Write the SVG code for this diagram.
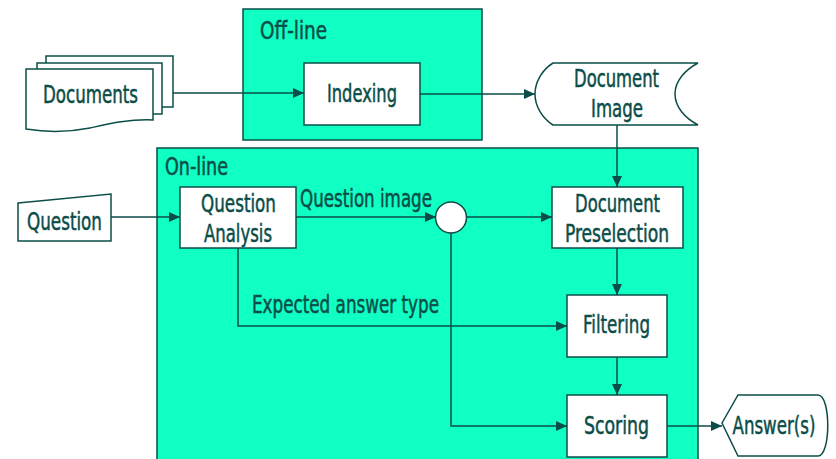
<svg xmlns="http://www.w3.org/2000/svg" width="836" height="459" viewBox="0 0 836 459">
  <style>
    .zone { fill: #10FFC2; stroke: #0B4D48; stroke-width: 1.5; }
    .box { fill: #FFFFFF; stroke: #0B4D48; stroke-width: 1.5; }
    .wire { fill: none; stroke: #0B4D48; stroke-width: 1.5; }
    .lbl { font-family: "DejaVu Sans Condensed", "Liberation Sans Narrow", "Liberation Sans", sans-serif; font-size: 25px; fill: #0B4D48; stroke: #0B4D48; stroke-width: 0.5; }
    .mid { text-anchor: middle; }
  </style>
  <defs>
    <marker id="arrow" markerUnits="userSpaceOnUse" markerWidth="11" markerHeight="10" refX="11" refY="5" orient="auto">
      <path d="M0,0 L11,5 L0,10 Z" fill="#0B4D48"/>
    </marker>
  </defs>

  <!-- processing zones -->
  <g id="offline-zone">
    <rect class="zone" x="243" y="9" width="239" height="131"/>
    <text class="lbl" x="260" y="39" textLength="67" lengthAdjust="spacingAndGlyphs">Off-line</text>
  </g>
  <g id="online-zone">
    <rect class="zone" x="157" y="148" width="541" height="320"/>
    <text class="lbl" x="165" y="175" textLength="63" lengthAdjust="spacingAndGlyphs">On-line</text>
  </g>

  <!-- connectors -->
  <g id="connectors">
    <path class="wire" d="M173,93 H304" marker-end="url(#arrow)"/>
    <path class="wire" d="M420,94 H535" marker-end="url(#arrow)"/>
    <path class="wire" d="M617,125 V187" marker-end="url(#arrow)"/>
    <path class="wire" d="M111,217 H180" marker-end="url(#arrow)"/>
    <path class="wire" d="M296,217 H436" marker-end="url(#arrow)"/>
    <path class="wire" d="M467,217 H552" marker-end="url(#arrow)"/>
    <path class="wire" d="M238,248 V326 H567" marker-end="url(#arrow)"/>
    <path class="wire" d="M617,248 V295" marker-end="url(#arrow)"/>
    <path class="wire" d="M617,357 V395" marker-end="url(#arrow)"/>
    <path class="wire" d="M451,233 V426 H567" marker-end="url(#arrow)"/>
    <path class="wire" d="M667,426 H722" marker-end="url(#arrow)"/>
    <text class="lbl" x="300" y="207" textLength="132" lengthAdjust="spacingAndGlyphs">Question image</text>
    <text class="lbl" x="252" y="313" textLength="187" lengthAdjust="spacingAndGlyphs">Expected answer type</text>
  </g>

  <!-- nodes -->
  <g id="documents">
    <rect class="box" x="46" y="56" width="127" height="51"/>
    <rect class="box" x="37" y="63" width="125" height="51"/>
    <path class="box" d="M26,69 H153 V120 C128,119 108,124 90,128 C70,132 50,133 26,129 Z"/>
    <text class="lbl" x="43" y="103" textLength="95" lengthAdjust="spacingAndGlyphs">Documents</text>
  </g>

  <g id="indexing">
    <rect class="box" x="304" y="63" width="116" height="62"/>
    <text class="lbl" x="327" y="102" textLength="70" lengthAdjust="spacingAndGlyphs">Indexing</text>
  </g>

  <g id="document-image">
    <path class="box" d="M553,63 H698 C685,70 675,81 675,94 C675,107 685,118 698,125 H553 C542,118 535,106 535,94 C535,82 542,70 553,63 Z"/>
    <text class="lbl" x="574" y="87" textLength="85" lengthAdjust="spacingAndGlyphs">Document</text>
    <text class="lbl" x="591" y="117" textLength="52" lengthAdjust="spacingAndGlyphs">Image</text>
  </g>

  <g id="question">
    <path class="box" d="M18,203 L111,194 V241 H18 Z"/>
    <text class="lbl" x="27" y="230" textLength="75" lengthAdjust="spacingAndGlyphs">Question</text>
  </g>

  <g id="question-analysis">
    <rect class="box" x="180" y="187" width="116" height="61"/>
    <text class="lbl" x="201" y="212" textLength="75" lengthAdjust="spacingAndGlyphs">Question</text>
    <text class="lbl" x="204" y="242" textLength="68" lengthAdjust="spacingAndGlyphs">Analysis</text>
  </g>

  <g id="merge-point">
    <circle class="box" cx="451" cy="217.5" r="15.5"/>
  </g>

  <g id="document-preselection">
    <rect class="box" x="552" y="187" width="131" height="61"/>
    <text class="lbl" x="575" y="212" textLength="85" lengthAdjust="spacingAndGlyphs">Document</text>
    <text class="lbl" x="565" y="242" textLength="104" lengthAdjust="spacingAndGlyphs">Preselection</text>
  </g>

  <g id="filtering">
    <rect class="box" x="567" y="295" width="100" height="62"/>
    <text class="lbl" x="583" y="333" textLength="67" lengthAdjust="spacingAndGlyphs">Filtering</text>
  </g>

  <g id="scoring">
    <rect class="box" x="567" y="395" width="100" height="62"/>
    <text class="lbl" x="584" y="434" textLength="65" lengthAdjust="spacingAndGlyphs">Scoring</text>
  </g>

  <g id="answers">
    <path class="box" d="M722,423 L738,395 H818 C831,395 831,456 818,456 H738 Z"/>
    <text class="lbl mid" transform="translate(774,434) scale(0.74,1)" x="0" y="0">Answer(s)</text>
  </g>
</svg>
